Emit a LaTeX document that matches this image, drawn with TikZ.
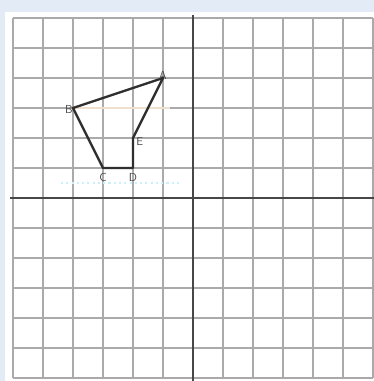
\documentclass[tikz,border=0pt]{standalone}
\usetikzlibrary{positioning}
\definecolor{panelblue}{RGB}{226,235,246}
\definecolor{gridgray}{RGB}{170,170,170}
\begin{document}
\begin{tikzpicture}
        \tikzstyle{every node}=[font=\sffamily\fontsize{11}{13}\selectfont, text=black!72, inner sep=1pt]
        \tikzstyle{gridline}=[draw=gridgray, line width=1.7pt]
        \tikzstyle{axisline}=[draw=black!72, line width=2pt]
        \tikzstyle{edge}=[draw=black!82, line width=2.2pt, line join=round]
        % background and panel
        \fill[panelblue] (-6.433,-6.1) rectangle (6.033,6.6);
        \useasboundingbox (-6.433,-6.1) rectangle (6.033,6.6);
        \fill[white] (-6.27,-6.1) rectangle (6.033,6.2);
        % grid and axes
        \draw[gridline] (-6,-6) grid (6,6);
        \draw[axisline] (-6.1,0) -- (6.033,0);
        \draw[axisline] (0,6.1) -- (0,-6.1);
        % faint marks
        \draw[draw=brown!25, line width=1.2pt] (-4,3) -- (-0.75,3);
        \draw[draw=cyan!20, line width=1pt, dash pattern=on 2pt off 3pt] (-4.4,0.5) -- (-0.4,0.5);
        % figure
        \coordinate (A) at (-1,4);
        \coordinate (B) at (-4,3);
        \coordinate (C) at (-3,1);
        \coordinate (D) at (-2,1);
        \coordinate (E) at (-2,2);
        \draw[edge] (A) -- (B) -- (C) -- (D) -- (E) -- cycle;
        \node[above=-3pt of A] (labA) {A};
        \node[left=-1pt of B, yshift=-1pt] (labB) {B};
        \node[right=2pt of E, yshift=-3pt] (labE) {E};
        \node[below=4pt of C] (labC) {C};
        \node[below=4pt of D] (labD) {D};
    \end{tikzpicture}
\end{document}
